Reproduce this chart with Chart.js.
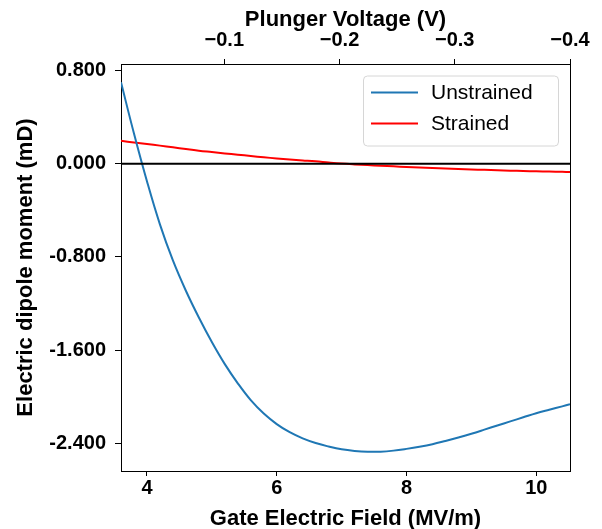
<!DOCTYPE html>
<html>
<head>
<meta charset="utf-8">
<script src="https://cdn.jsdelivr.net/npm/chart.js@4.4.1/dist/chart.umd.min.js"></script>
<style>
	body { margin: 0; background: #fff; }
	#wrap { width: 602px; height: 529px; }
</style>
</head>
<body>
<div id="wrap"><canvas id="dipoleChart" width="602" height="529"></canvas></div>
<script>
	// Gate electric field (MV/m) sample points
	var fieldValues = [3.6, 3.8, 4.0, 4.2, 4.4, 4.6, 4.8, 5.0, 5.2, 5.4, 5.6, 5.8, 6.0, 6.2, 6.4, 6.6, 6.8, 7.0,
		7.2, 7.4, 7.6, 7.8, 8.0, 8.2, 8.4, 8.6, 8.8, 9.0, 9.2, 9.4, 9.6, 9.8, 10.0, 10.2, 10.4, 10.52];
	// Dipole moment (mD)
	var unstrainedValues = [0.70, 0.26, -0.15, -0.52, -0.83, -1.09, -1.32, -1.53, -1.72, -1.885, -2.03, -2.145, -2.235,
		-2.305, -2.358, -2.398, -2.428, -2.452, -2.466, -2.473, -2.472, -2.463, -2.448, -2.43, -2.408, -2.38, -2.35,
		-2.318, -2.283, -2.247, -2.212, -2.177, -2.142, -2.112, -2.083, -2.065];
	var strainedValues = [0.197, 0.183, 0.170, 0.156, 0.142, 0.127, 0.113, 0.101, 0.089, 0.078, 0.067, 0.056, 0.046,
		0.037, 0.029, 0.021, 0.011, 0.002, -0.005, -0.011, -0.017, -0.022, -0.027, -0.032, -0.036, -0.041, -0.045,
		-0.049, -0.052, -0.056, -0.059, -0.062, -0.065, -0.067, -0.069, -0.071];
	var zeroLineX = [3.6, 10.52];
	var zeroLineY = [0, 0];

	// Tick labels
	var fieldTicks = [4, 6, 8, 10];
	var plungerTicks = [-0.1, -0.2, -0.3, -0.4];
	var dipoleTicks = [0.8, 0, -0.8, -1.6, -2.4];

	var FONT = "'Liberation Sans', Arial, sans-serif";

	function toPoints(xs, ys) {
		var pts = [];
		for (var i = 0; i < xs.length; i++) {
			pts.push({ x: xs[i], y: ys[i] });
		}
		return pts;
	}

	function fixedTicks(values) {
		return function (axis) {
			axis.ticks = values.map(function (v) { return { value: v }; });
		};
	}

	/**
	 * Legend box drawn inside the plot, matplotlib style
	 */
	var boxLegend = {
		id: 'boxLegend',
		afterDraw: function (chart) {
			var ctx = chart.ctx;
			var x = 363.5, y = 76, w = 195, h = 70, r = 4;
			ctx.save();
			ctx.beginPath();
			ctx.moveTo(x + r, y);
			ctx.arcTo(x + w, y, x + w, y + h, r);
			ctx.arcTo(x + w, y + h, x, y + h, r);
			ctx.arcTo(x, y + h, x, y, r);
			ctx.arcTo(x, y, x + w, y, r);
			ctx.closePath();
			ctx.fillStyle = 'rgba(255,255,255,0.8)';
			ctx.fill();
			ctx.strokeStyle = '#d6d6d6';
			ctx.lineWidth = 1;
			ctx.stroke();

			var rows = [92.5, 123.5];
			ctx.font = '21px ' + FONT;
			ctx.textBaseline = 'middle';
			ctx.textAlign = 'left';
			for (var i = 0; i < 2; i++) {
				var ds = chart.data.datasets[i];
				ctx.beginPath();
				ctx.moveTo(371, rows[i]);
				ctx.lineTo(418, rows[i]);
				ctx.strokeStyle = ds.borderColor;
				ctx.lineWidth = 2;
				ctx.stroke();
				ctx.fillStyle = '#000';
				ctx.fillText(ds.label, 431, rows[i] + 1);
			}
			ctx.restore();
		}
	};

	var tickFont = { family: FONT, size: 20, weight: 'bold', lineHeight: 1 };
	var titleFont = { family: FONT, size: 22, weight: 'bold', lineHeight: 1 };

	var chartData = {
		type: 'line',
		data: {
			datasets: [
				{
					label: 'Unstrained',
					data: toPoints(fieldValues, unstrainedValues),
					borderColor: '#1f77b4',
					borderWidth: 2,
					pointRadius: 0,
					tension: 0.4
				},
				{
					label: 'Strained',
					data: toPoints(fieldValues, strainedValues),
					borderColor: '#ff0000',
					borderWidth: 2,
					pointRadius: 0,
					tension: 0.4
				},
				{
					label: 'zero',
					data: toPoints(zeroLineX, zeroLineY),
					borderColor: '#000000',
					borderWidth: 2,
					pointRadius: 0,
					order: -1
				}
			]
		},
		options: {
			responsive: false,
			animation: false,
			layout: { padding: 0 },
			plugins: {
				legend: { display: false },
				tooltip: { enabled: false }
			},
			scales: {
				x: {
					type: 'linear',
					position: 'bottom',
					min: 3.6,
					max: 10.52,
					afterBuildTicks: fixedTicks(fieldTicks),
					afterFit: function (s) { s.height = 58; },
					grid: { drawOnChartArea: false, color: '#000', tickLength: 5 },
					border: { color: '#000', width: 1 },
					ticks: { color: '#000', font: tickFont, padding: 2, maxRotation: 0 },
					title: { display: true, text: 'Gate Electric Field (MV/m)', color: '#000', font: titleFont, padding: { top: 0, bottom: -1 } }
				},
				x2: {
					type: 'linear',
					position: 'top',
					min: -0.4,
					max: -0.0104,
					reverse: true,
					afterBuildTicks: fixedTicks(plungerTicks),
					afterFit: function (s) { s.height = 64; },
					grid: { drawOnChartArea: false, color: '#000', tickLength: 5 },
					border: { color: '#000', width: 1 },
					ticks: {
						color: '#000', font: tickFont, padding: 9, maxRotation: 0,
						callback: function (v) { return '\u2212' + Math.abs(v).toFixed(1); }
					},
					title: { display: true, text: 'Plunger Voltage (V)', color: '#000', font: titleFont, padding: { top: 9, bottom: 0 } }
				},
				y: {
					type: 'linear',
					position: 'left',
					min: -2.638,
					max: 0.857,
					afterBuildTicks: fixedTicks(dipoleTicks),
					afterFit: function (s) { s.width = 121; },
					grid: { drawOnChartArea: false, color: '#000', tickLength: 6 },
					border: { color: '#000', width: 1 },
					ticks: {
						color: '#000', font: tickFont, padding: 9,
						callback: function (v) { return v.toFixed(3); }
					},
					title: { display: true, text: 'Electric dipole moment (mD)', color: '#000', font: titleFont, padding: { top: 15, bottom: 0 } }
				},
				y2: {
					type: 'linear',
					position: 'right',
					min: 0,
					max: 1,
					afterFit: function (s) { s.width = 32; },
					grid: { drawOnChartArea: false, drawTicks: false },
					border: { color: '#000', width: 1 },
					ticks: { display: false }
				}
			}
		},
		plugins: [boxLegend]
	};

	var dipoleChart = new Chart(document.getElementById('dipoleChart'), chartData);
</script>
</body>
</html>
